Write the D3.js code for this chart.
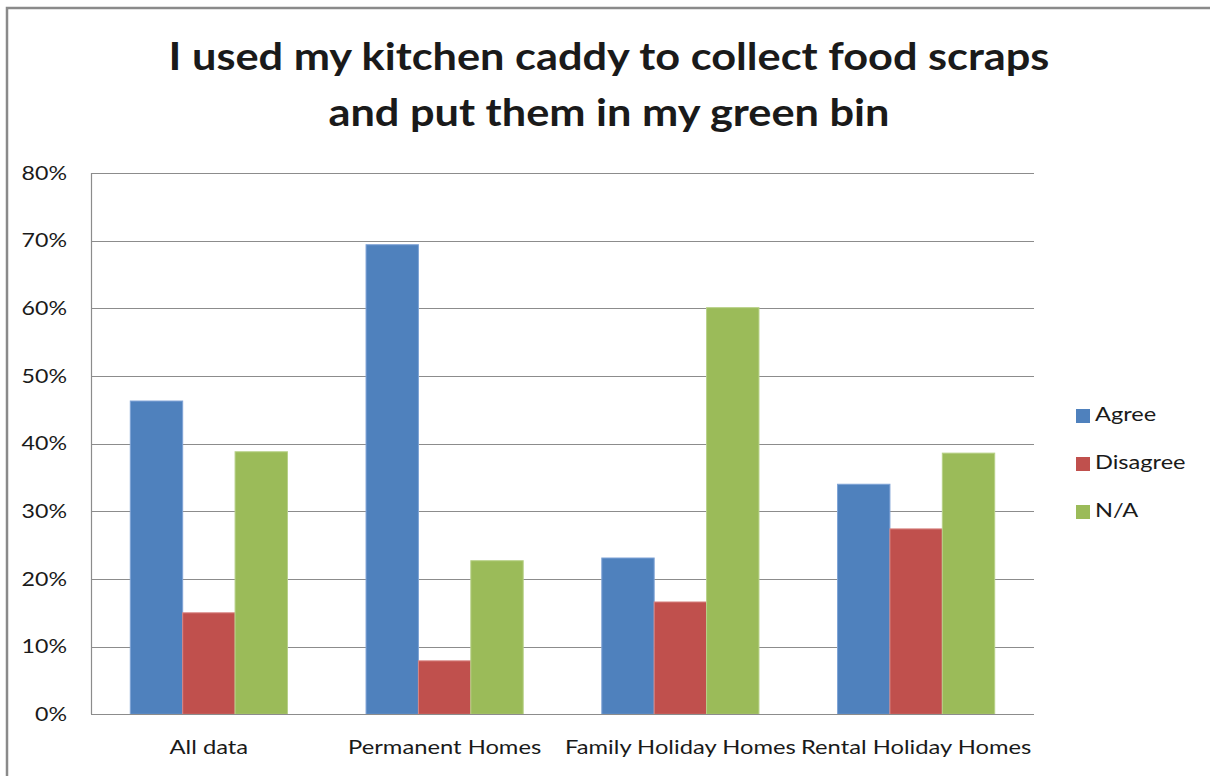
<!DOCTYPE html>
<html>
<head>
<meta charset="utf-8">
<script src="https://cdn.jsdelivr.net/npm/d3@7"></script>
<style>
html,body{margin:0;padding:0;background:#fff;}
svg{display:block;}
text{font-family:Lato,"Open Sans",sans-serif;fill:#1a1a1a;}
</style>
</head>
<body>
<svg id="chart" width="1210" height="776"></svg>
<script>
const titleLines = ["I used my kitchen caddy to collect food scraps", "and put them in my green bin"];
const categories = ["All data", "Permanent Homes", "Family Holiday Homes", "Rental Holiday Homes"];
const seriesNames = ["Agree", "Disagree", "N/A"];
const agree = [0.463, 0.694, 0.231, 0.340];
const disagree = [0.150, 0.079, 0.166, 0.274];
const na = [0.388, 0.227, 0.601, 0.386];
const yTicks = [0, 0.1, 0.2, 0.3, 0.4, 0.5, 0.6, 0.7, 0.8];
const colors = ["#4F81BD", "#C0504D", "#9BBB59"];
const strokes = ["#7FA3D6", "#D88583", "#B8D188"];

const seriesValues = [agree, disagree, na];
const svg = d3.select("#chart");

// outer border
svg.append("path").attr("d", "M7,776 L7,8 L1210,8")
  .attr("fill", "none").attr("stroke", "#8a8a8a").attr("stroke-width", 2.5);

const plot = {left: 91, right: 1034, top: 173, bottom: 714.3};
const x0 = d3.scaleBand().domain(categories).range([plot.left, plot.right]).padding(0);
const x1 = d3.scaleBand().domain(seriesNames).range([0, x0.bandwidth()]).paddingInner(0).paddingOuter(0.75);
const y = d3.scaleLinear().domain([0, 0.8]).range([plot.bottom, plot.top]);

// gridlines
svg.append("g").selectAll("line").data(yTicks).join("line")
  .attr("x1", plot.left).attr("x2", plot.right)
  .attr("y1", d => Math.round(y(d)) + 0.5).attr("y2", d => Math.round(y(d)) + 0.5)
  .attr("stroke", "#8c8c8c").attr("stroke-width", 1.2);

// y axis line
svg.append("line").attr("x1", plot.left + 0.5).attr("x2", plot.left + 0.5)
  .attr("y1", plot.top).attr("y2", plot.bottom).attr("stroke", "#8c8c8c").attr("stroke-width", 1.2);

// y tick labels (horizontally stretched to mimic the original's wide rendering)
const ySx = 1.22;
const yAxis = d3.axisLeft(y).tickValues(yTicks).tickFormat(d3.format(".0%")).tickSize(0).tickPadding(24 / ySx);
const ya = svg.append("g").attr("transform", `translate(${plot.left},0)`).call(yAxis);
ya.select(".domain").remove();
ya.selectAll("text").attr("font-size", 19).attr("font-family", "Lato, sans-serif").attr("fill", "#1a1a1a")
  .attr("transform", `scale(${ySx},1)`);

// bars
const data = [];
categories.forEach((c, i) => seriesNames.forEach((s, j) => data.push({c, s, j, v: seriesValues[j][i]})));
svg.append("g").selectAll("rect").data(data).join("rect")
  .attr("x", d => x0(d.c) + x1(d.s))
  .attr("width", x1.bandwidth())
  .attr("y", d => y(d.v))
  .attr("height", d => y(0) - y(d.v))
  .attr("fill", d => colors[d.j])
  .attr("stroke", d => strokes[d.j]).attr("stroke-width", 1);

// x axis line
svg.append("line").attr("x1", plot.left).attr("x2", plot.right)
  .attr("y1", Math.round(y(0)) + 0.5).attr("y2", Math.round(y(0)) + 0.5)
  .attr("stroke", "#8c8c8c").attr("stroke-width", 1.2);

// x labels
const xAxis = d3.axisBottom(x0).tickSize(0).tickPadding(26);
const xa = svg.append("g").attr("transform", `translate(0,${plot.bottom})`).call(xAxis);
xa.select(".domain").remove();
xa.selectAll("text").attr("font-size", 19).attr("font-family", "Lato, sans-serif").attr("fill", "#1a1a1a")
  .attr("transform", "scale(1.25,1)");

// title
const tSx = 1.14;
const title = svg.append("g").attr("transform", `translate(609,0) scale(${tSx},1)`)
  .append("text").attr("text-anchor", "middle").attr("font-weight", "bold").attr("font-size", 38);
title.selectAll("tspan").data(titleLines).join("tspan")
  .attr("x", 0).attr("y", (d, i) => 70 + i * 56).text(d => d);

// legend
const leg = svg.append("g").attr("transform", "translate(1076,409)");
const li = leg.selectAll("g").data(seriesNames).join("g")
  .attr("transform", (d, i) => `translate(0,${i * 48})`);
li.append("rect").attr("width", 14).attr("height", 14).attr("fill", (d, i) => colors[i]);
li.append("g").attr("transform", "translate(19,0) scale(1.18,1)")
  .append("text").attr("x", 0).attr("y", 5).attr("dy", "0.36em").attr("font-size", 20).text(d => d);
</script>
</body>
</html>
